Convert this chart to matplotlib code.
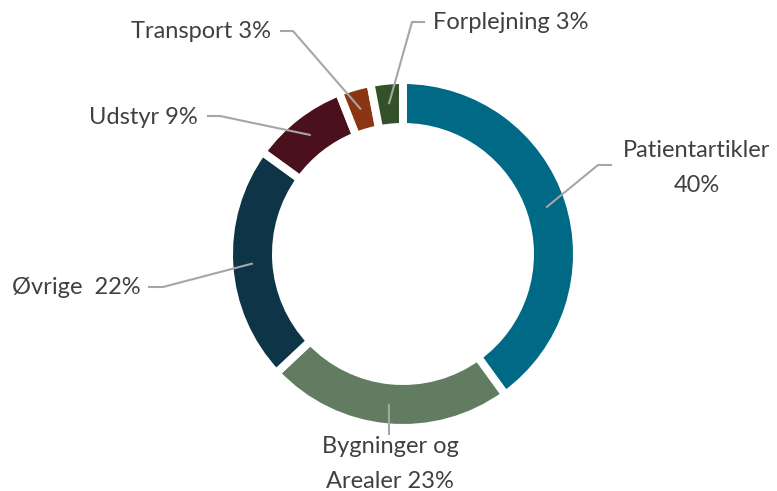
import matplotlib.pyplot as plt
import numpy as np

# data
labels = ["Patientartikler\n40%", "Bygninger og\nArealer 23%", "Øvrige  22%",
          "Udstyr 9%", "Transport 3%", "Forplejning 3%"]
values = [40, 23, 22, 9, 3, 3]
colors = ["#006985", "#627c62", "#0e3547", "#4a111c", "#8b3512", "#33522a"]

# layout (pixel units, y up)
W, H = 777, 491
CX, CY = 403, 491 - 254
R_OUT, RING = 170, 39
GAP = 8

# text anchor, ha, elbow point, end of horizontal part
label_pos = [
    ((697, 491 - 168), "center", (598, 491 - 165), (612, 491 - 165)),
    ((390, 491 - 464), "center", (389, 491 - 420), (389, 491 - 435)),
    ((141, 491 - 288), "right", (163, 491 - 287), (148, 491 - 287)),
    ((198, 491 - 117), "right", (220, 491 - 116), (207, 491 - 116)),
    ((271, 491 - 31), "right", (293, 491 - 31), (280, 491 - 31)),
    ((433, 491 - 22), "left", (412, 491 - 22), (425, 491 - 22)),
]

plt.rcParams['font.family'] = ['Lato', 'DejaVu Sans']

fig = plt.figure(figsize=(W / 100, H / 100), dpi=100)
ax = fig.add_axes([0, 0, 1, 1])
ax.axis('off')

lw_pt = GAP * 72 / 100
wedges, _ = ax.pie(values, colors=colors, startangle=90, counterclock=False,
                   center=(CX, CY), radius=R_OUT + GAP / 2,
                   wedgeprops=dict(width=RING + GAP, edgecolor='white', linewidth=lw_pt))
ax.set_xlim(0, W)
ax.set_ylim(0, H)
ax.set_aspect('equal')

r_mid = R_OUT - RING / 2
for w, lab, (tpos, ha, elbow, end) in zip(wedges, labels, label_pos):
    ang = np.deg2rad((w.theta1 + w.theta2) / 2)
    p = (CX + r_mid * np.cos(ang), CY + r_mid * np.sin(ang))
    ax.plot([p[0], elbow[0], end[0]], [p[1], elbow[1], end[1]],
            color='#a6a6a6', lw=1.5, solid_capstyle='butt', zorder=3)
    ax.text(tpos[0], tpos[1], lab, ha=ha, va='center', fontsize=17,
            color='#404040', linespacing=1.8)

fig.savefig('out.png', dpi=100)
